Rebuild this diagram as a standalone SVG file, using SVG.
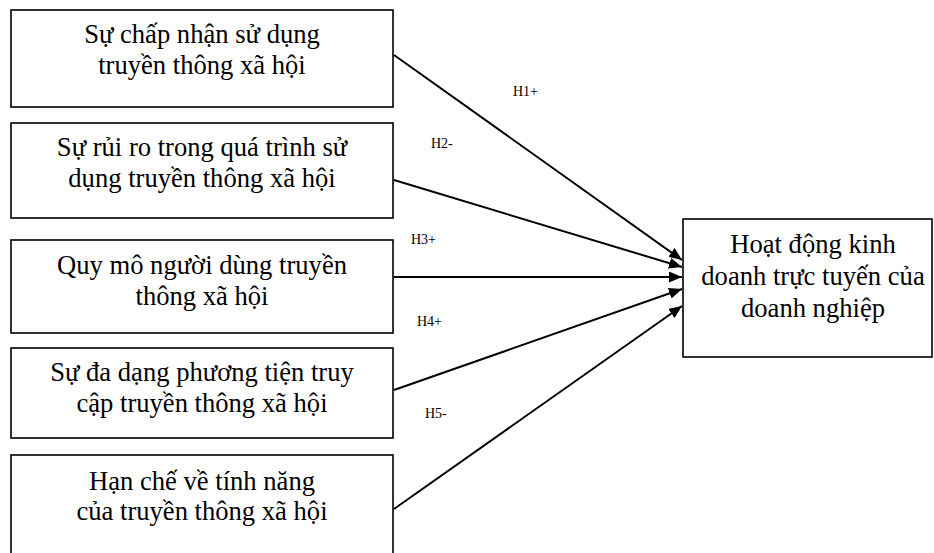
<svg xmlns="http://www.w3.org/2000/svg" width="934" height="553" viewBox="0 0 934 553">
<style>
.box{fill:#fff;stroke:#000;stroke-width:1.6}
.t{font-family:"Liberation Serif","Times New Roman",serif;font-size:26.6px;fill:#000;text-anchor:middle}
.lbl{font-family:"Liberation Serif","Times New Roman",serif;font-size:14px;fill:#000}
.c{stroke:#000;stroke-width:2;fill:none;marker-end:url(#ah)}
</style>
<defs>
<marker id="ah" markerUnits="userSpaceOnUse" markerWidth="13" markerHeight="11" refX="13" refY="5.5" orient="auto">
<path d="M0,0 L13,5.5 L0,11 z" fill="#000"/>
</marker>
</defs>
<rect width="934" height="553" fill="#fff"/>
<g id="n1">
<rect class="box" x="11" y="10" width="382" height="97"/>
<text class="t" x="202" y="43">Sự chấp nhận sử dụng</text>
<text class="t" x="202" y="74">truyền thông xã hội</text>
</g>
<g id="n2">
<rect class="box" x="11" y="123" width="382" height="95"/>
<text class="t" x="202" y="156">Sự rủi ro trong quá trình sử</text>
<text class="t" x="202" y="187">dụng truyền thông xã hội</text>
</g>
<g id="n3">
<rect class="box" x="11" y="240" width="382" height="93"/>
<text class="t" x="202" y="274">Quy mô người dùng truyền</text>
<text class="t" x="202" y="305">thông xã hội</text>
</g>
<g id="n4">
<rect class="box" x="11" y="348" width="382" height="90"/>
<text class="t" x="202" y="381">Sự đa dạng phương tiện truy</text>
<text class="t" x="202" y="412">cập truyền thông xã hội</text>
</g>
<g id="n5">
<rect class="box" x="11" y="455" width="382" height="110"/>
<text class="t" x="202" y="490">Hạn chế về tính năng</text>
<text class="t" x="202" y="520">của truyền thông xã hội</text>
</g>
<g id="target">
<rect class="box" x="683" y="219" width="249" height="138"/>
<text class="t" x="813" y="253">Hoạt động kinh</text>
<text class="t" x="813" y="285">doanh trực tuyến của</text>
<text class="t" x="813" y="317">doanh nghiệp</text>
</g>
<g id="connectors">
<line class="c" x1="394" y1="55" x2="682" y2="260"/>
<line class="c" x1="394" y1="180" x2="682" y2="267"/>
<line class="c" x1="394" y1="277" x2="682" y2="277"/>
<line class="c" x1="394" y1="390" x2="682" y2="289"/>
<line class="c" x1="394" y1="509" x2="682" y2="306"/>
<text class="lbl" x="513" y="96">H1+</text>
<text class="lbl" x="431" y="148">H2-</text>
<text class="lbl" x="411" y="244">H3+</text>
<text class="lbl" x="417" y="326">H4+</text>
<text class="lbl" x="425" y="418">H5-</text>
</g>
</svg>
